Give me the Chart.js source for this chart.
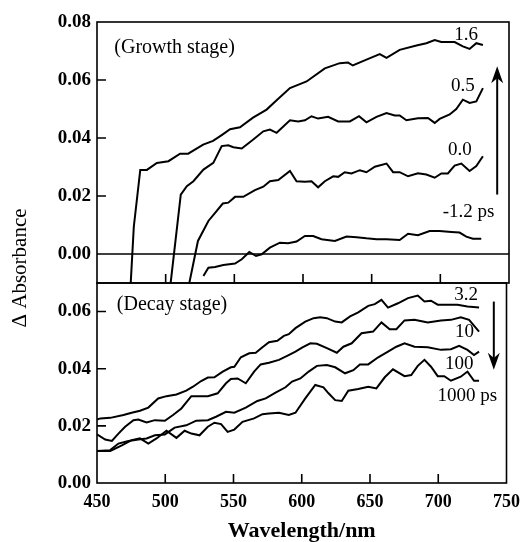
<!DOCTYPE html>
<html>
<head>
<meta charset="utf-8">
<script src="https://cdn.jsdelivr.net/npm/chart.js@4.4.0/dist/chart.umd.min.js"></script>
<style>
  html, body { margin: 0; padding: 0; background: #fff; }
  #wrap { position: relative; width: 529px; height: 542px; }
  #wrap canvas { position: absolute; left: 0; top: 0; }
</style>
</head>
<body>
<div id="wrap">
  <canvas id="topChart" width="529" height="542"></canvas>
  <canvas id="bottomChart" width="529" height="542"></canvas>
</div>
<script>
//ticks
const xTicks = [450, 500, 550, 600, 650, 700, 750];
const yTicksTop = [0.00, 0.02, 0.04, 0.06, 0.08];
const yTicksBottom = [0.00, 0.02, 0.04, 0.06];

const xTitle = 'Wavelength/nm';
const yTitle = '\u0394 Absorbance';
const stageTitles = ['(Growth stage)', '(Decay stage)'];

//growth stage
const growthDelays = ['1.6', '0.5', '0.0', '-1.2 ps'];
const wl_16 = [474.5, 476.8, 481.5, 486.3, 493.6, 502, 510.5, 516.4, 527.3, 534.5, 540.8, 546.9, 554.1, 563.6, 573.5, 580.8, 590.5, 597.7, 602.6, 615.9, 626.8, 632.8, 636.3, 646.2, 655.9, 660.8, 670.4, 682.6, 689.8, 695.9, 700.7, 710.4, 716.4, 721.3, 726.2, 731];
const abs_16 = [-0.0105, 0.0094, 0.029, 0.029, 0.0314, 0.032, 0.0346, 0.0346, 0.0377, 0.039, 0.041, 0.043, 0.0437, 0.047, 0.0498, 0.053, 0.0572, 0.0586, 0.0595, 0.064, 0.0658, 0.066, 0.065, 0.067, 0.0689, 0.0676, 0.0704, 0.0719, 0.0727, 0.0738, 0.0731, 0.0731, 0.0716, 0.0707, 0.0727, 0.0721];
const wl_05 = [503.5, 511, 515.4, 520.2, 527.5, 534.7, 540.8, 545.6, 549.3, 555.4, 563.8, 571.1, 575.9, 580.8, 590.5, 596.5, 601.4, 606.2, 611, 618.3, 625.6, 634.1, 640.8, 646.2, 653.5, 660.8, 666.8, 670.4, 675.3, 683.7, 691, 695.9, 699.5, 706.8, 711.6, 716.4, 721.3, 726.2, 731];
const abs_05 = [-0.0105, 0.0205, 0.0234, 0.0251, 0.0291, 0.0314, 0.0372, 0.0375, 0.0368, 0.0364, 0.0395, 0.0423, 0.0429, 0.0418, 0.0461, 0.0457, 0.0461, 0.0475, 0.0467, 0.0473, 0.0457, 0.0457, 0.0475, 0.0454, 0.0473, 0.0486, 0.0478, 0.0478, 0.0461, 0.0468, 0.0469, 0.0452, 0.0466, 0.0481, 0.05, 0.0532, 0.0521, 0.0526, 0.0572];
const wl_00 = [517, 523.5, 531.1, 536, 541.6, 545.6, 550.5, 556.5, 565, 571.1, 575.9, 582, 590.5, 595.3, 601.4, 606.2, 611, 615.9, 622, 625.6, 630.4, 635.3, 641.4, 646.2, 652.3, 660.8, 665.6, 670.4, 676.5, 683.7, 689.8, 695.9, 700.7, 705.5, 710.4, 715.3, 721.3, 726.2, 731];
const abs_00 = [-0.0105, 0.0045, 0.0114, 0.0142, 0.0174, 0.0177, 0.0197, 0.0197, 0.022, 0.0232, 0.0251, 0.0255, 0.0286, 0.0251, 0.0249, 0.0251, 0.023, 0.0251, 0.0268, 0.0266, 0.0282, 0.0278, 0.0289, 0.0282, 0.0301, 0.0312, 0.0282, 0.0282, 0.0268, 0.0278, 0.0274, 0.0263, 0.0278, 0.0278, 0.0305, 0.0312, 0.0286, 0.0303, 0.0337];
const wl_m12 = [527.5, 531.1, 536, 542, 550.5, 555.4, 560.9, 565.8, 569.9, 575.9, 583.2, 589.2, 595.3, 601.4, 607.4, 613.5, 623.2, 631.7, 639, 646.2, 653.5, 660.8, 670.4, 676.5, 683.7, 692.2, 699.5, 708, 714, 718.9, 723.7, 729.8];
const abs_m12 = [-0.0076, -0.0047, -0.0045, -0.0038, -0.0033, -0.0018, 0.0007, -0.0007, -0.0001, 0.0022, 0.0039, 0.0037, 0.0043, 0.0062, 0.0062, 0.0051, 0.0045, 0.006, 0.0058, 0.0054, 0.0051, 0.0051, 0.0048, 0.007, 0.0065, 0.0079, 0.0079, 0.0076, 0.0074, 0.006, 0.0053, 0.0053];

//decay stage
const decayDelays = ['3.2', '10', '100', '1000 ps'];
const wl_32 = [450, 452.4, 459.7, 469.4, 475.4, 481.5, 487.6, 494.8, 500.9, 508.2, 515.4, 520.3, 526.3, 531.2, 536, 542.1, 548.1, 550.6, 555.4, 561.5, 566.3, 571.2, 576, 582.1, 586.9, 590.5, 595.4, 602.6, 608.7, 613.5, 618.4, 624.5, 629.3, 635.4, 641.4, 648.7, 653.5, 658.4, 663.2, 670.5, 677.8, 685, 689.9, 694.7, 699.6, 706.8, 714.1, 721.4, 729.9];
const abs_32 = [0.0222, 0.0226, 0.0228, 0.0238, 0.0246, 0.0253, 0.0264, 0.0296, 0.0304, 0.031, 0.0323, 0.0337, 0.0357, 0.0369, 0.037, 0.039, 0.0405, 0.0407, 0.044, 0.0454, 0.0456, 0.0475, 0.0493, 0.0498, 0.0515, 0.0521, 0.0542, 0.0565, 0.0577, 0.058, 0.0577, 0.0565, 0.0562, 0.0583, 0.0597, 0.062, 0.0626, 0.0641, 0.0614, 0.0629, 0.0647, 0.0656, 0.0635, 0.0638, 0.0624, 0.0624, 0.0624, 0.0618, 0.0614];
const wl_10 = [450, 456, 460.9, 465.7, 470.6, 476.7, 480.3, 486.3, 492.4, 499.7, 505.7, 511.8, 519.1, 525.1, 531.2, 538.4, 544.5, 548.1, 553, 559, 565.1, 569.9, 576, 583.3, 589.3, 595.4, 600.2, 606.3, 611.1, 618.4, 625.7, 630.5, 636.6, 643.8, 652.3, 658.4, 664.4, 669.3, 675.3, 682.6, 692.3, 702, 709.3, 716.5, 722.6, 729.9];
const abs_10 = [0.017, 0.0152, 0.0147, 0.0173, 0.0197, 0.022, 0.0222, 0.0212, 0.022, 0.0218, 0.0238, 0.0261, 0.0304, 0.0304, 0.0304, 0.0314, 0.0349, 0.0364, 0.0366, 0.0349, 0.039, 0.0415, 0.0421, 0.0431, 0.0445, 0.046, 0.0474, 0.0489, 0.0487, 0.0472, 0.0456, 0.0477, 0.0489, 0.0524, 0.053, 0.0562, 0.0538, 0.0538, 0.0569, 0.0571, 0.0562, 0.0569, 0.0571, 0.058, 0.0571, 0.053];
const wl_100 = [450, 459.7, 465.7, 473, 480.3, 486.3, 492.4, 499.7, 506.9, 515.4, 522.7, 531.2, 537.2, 544.5, 550.6, 559, 567.5, 573.6, 580.8, 588.1, 592.9, 599, 605.1, 611.1, 618.4, 624.5, 631.7, 637.8, 642.6, 648.7, 656, 663.2, 669.3, 675.3, 682.6, 692.3, 702, 709.3, 715.3, 721.4, 726.2, 729.9];
const abs_100 = [0.0112, 0.0115, 0.0138, 0.0147, 0.0152, 0.0156, 0.0167, 0.017, 0.0194, 0.0202, 0.0218, 0.022, 0.0232, 0.0249, 0.0246, 0.0264, 0.0287, 0.0296, 0.0316, 0.0335, 0.0355, 0.0366, 0.039, 0.041, 0.0413, 0.0405, 0.0384, 0.0395, 0.0415, 0.0415, 0.044, 0.046, 0.0477, 0.0489, 0.0477, 0.0475, 0.0466, 0.0468, 0.048, 0.0466, 0.0448, 0.046];
const wl_1000 = [450, 459.7, 468.2, 475.4, 481.5, 487.6, 493.6, 500.9, 508.2, 514.2, 519.1, 525.1, 531.2, 536, 540.9, 545.7, 550.6, 556.6, 565.1, 571.2, 576, 583.3, 590.5, 595.4, 602.6, 609.9, 615.9, 619.6, 624.5, 629.3, 634.1, 641.4, 648.7, 654.7, 660.8, 666.8, 675.3, 680.2, 685, 689.9, 694.7, 699.6, 704.4, 709.3, 716.5, 721.4, 726.2, 729.9];
const abs_1000 = [0.0112, 0.0112, 0.0132, 0.015, 0.0156, 0.0138, 0.0156, 0.0183, 0.0158, 0.0183, 0.0173, 0.0167, 0.0197, 0.0211, 0.0206, 0.0179, 0.0187, 0.0214, 0.0226, 0.0241, 0.0243, 0.0246, 0.0238, 0.0246, 0.0296, 0.0343, 0.0335, 0.0314, 0.029, 0.0287, 0.0323, 0.0329, 0.0337, 0.0331, 0.037, 0.0398, 0.0374, 0.0378, 0.041, 0.0431, 0.0407, 0.0374, 0.0374, 0.0358, 0.0372, 0.039, 0.0358, 0.0358];

const SERIF = '"Liberation Serif", "Times New Roman", serif';
Chart.defaults.font.family = SERIF;
Chart.defaults.color = '#000';

function toPoints(wl, abs) {
    return wl.map((w, i) => ({ x: w, y: abs[i] }));
}

function lineSet(label, wl, abs) {
    return {
        label: label,
        data: toPoints(wl, abs),
        borderColor: '#000',
        borderWidth: 2,
        pointRadius: 0,
        tension: 0,
        fill: false
    };
}

// frame, inward tick marks, curve labels, arrows
function decoPlugin(cfg) {
    return {
        id: 'deco',
        afterDatasetsDraw(chart) {
            const ctx = chart.ctx;
            const a = chart.chartArea;
            const x = chart.scales.x;
            const y = chart.scales.y;
            ctx.save();
            ctx.strokeStyle = '#000';
            ctx.lineWidth = 1.6;
            ctx.strokeRect(a.left, a.top, a.right - a.left, a.bottom - a.top);

            ctx.beginPath();
            xTicks.forEach(v => {
                const px = x.getPixelForValue(v);
                if (px > a.left + 1 && px < a.right - 1) {
                    ctx.moveTo(px, a.bottom);
                    ctx.lineTo(px, a.bottom - 9);
                }
            });
            cfg.yTicks.forEach(v => {
                const py = y.getPixelForValue(v);
                if (py > a.top + 1 && py < a.bottom - 1) {
                    ctx.moveTo(a.left, py);
                    ctx.lineTo(a.left + 9, py);
                }
            });
            if (cfg.zeroLine) {
                const p0 = y.getPixelForValue(0);
                ctx.moveTo(a.left, p0);
                ctx.lineTo(a.right, p0);
            }
            ctx.stroke();

            ctx.fillStyle = '#000';
            ctx.textBaseline = 'middle';
            ctx.textAlign = 'left';
            ctx.font = '20px ' + SERIF;
            ctx.fillText(cfg.title, x.getPixelForValue(cfg.titleAt[0]), y.getPixelForValue(cfg.titleAt[1]));

            ctx.font = '19px ' + SERIF;
            ctx.textAlign = 'center';
            cfg.labels.forEach((t, i) => {
                const p = cfg.labelAt[i];
                ctx.fillText(t, x.getPixelForValue(p[0]), y.getPixelForValue(p[1]));
            });

            // arrow
            const ax = x.getPixelForValue(cfg.arrow[0]);
            const y0 = y.getPixelForValue(cfg.arrow[1]);
            const y1 = y.getPixelForValue(cfg.arrow[2]);
            const dir = y1 < y0 ? -1 : 1;
            const head = 17;
            ctx.lineWidth = 2;
            ctx.beginPath();
            ctx.moveTo(ax, y0);
            ctx.lineTo(ax, y1 - dir * head * 0.6);
            ctx.stroke();
            ctx.beginPath();
            ctx.moveTo(ax, y1);
            ctx.lineTo(ax - 6, y1 - dir * head);
            ctx.lineTo(ax, y1 - dir * head * 0.7);
            ctx.lineTo(ax + 6, y1 - dir * head);
            ctx.closePath();
            ctx.fill();

            if (cfg.yTitle) {
                ctx.save();
                ctx.translate(20, 268);
                ctx.rotate(-Math.PI / 2);
                ctx.font = '21px ' + SERIF;
                ctx.textAlign = 'center';
                ctx.fillText(yTitle, 0, 0);
                ctx.restore();
            }
            ctx.restore();
        }
    };
}

function yScale(min, max, ticks) {
    return {
        min: min,
        max: max,
        afterFit: (s) => { s.width = 97; },
        afterBuildTicks: (s) => { s.ticks = ticks.map(v => ({ value: v })); },
        grid: { display: false, drawTicks: false },
        border: { display: false },
        ticks: {
            padding: 6,
            color: '#000',
            font: { size: 19, weight: 'bold' },
            callback: (v) => Number(v).toFixed(2)
        }
    };
}

function loadCharts() {
    // top panel: growth stage
    new Chart(document.getElementById('topChart'), {
        type: 'line',
        data: {
            datasets: [
                lineSet(growthDelays[0], wl_16, abs_16),
                lineSet(growthDelays[1], wl_05, abs_05),
                lineSet(growthDelays[2], wl_00, abs_00),
                lineSet(growthDelays[3], wl_m12, abs_m12)
            ]
        },
        options: {
            responsive: false,
            animation: false,
            layout: { padding: { top: 22, right: 20, bottom: 259, left: 0 } },
            plugins: { legend: { display: false }, tooltip: { enabled: false } },
            scales: {
                x: { type: 'linear', min: 450, max: 750, display: false },
                y: yScale(-0.01, 0.08, yTicksTop)
            }
        },
        plugins: [decoPlugin({
            yTicks: yTicksTop,
            zeroLine: true,
            title: stageTitles[0],
            titleAt: [462.6, 0.0712],
            labels: growthDelays,
            labelAt: [[718.7, 0.0756], [716.4, 0.058], [714.2, 0.036], [720.6, 0.0145]],
            arrow: [741.4, 0.0205, 0.0647],
            yTitle: false
        })]
    });

    // bottom panel: decay stage
    new Chart(document.getElementById('bottomChart'), {
        type: 'line',
        data: {
            datasets: [
                lineSet(decayDelays[0], wl_32, abs_32),
                lineSet(decayDelays[1], wl_10, abs_10),
                lineSet(decayDelays[2], wl_100, abs_100),
                lineSet(decayDelays[3], wl_1000, abs_1000)
            ]
        },
        options: {
            responsive: false,
            animation: false,
            layout: { padding: { top: 283, right: 20, bottom: 0, left: 0 } },
            plugins: { legend: { display: false }, tooltip: { enabled: false } },
            scales: {
                x: {
                    type: 'linear',
                    min: 450,
                    max: 750,
                    afterFit: (s) => { s.height = 59; },
                    afterBuildTicks: (s) => { s.ticks = xTicks.map(v => ({ value: v })); },
                    grid: { display: false, drawTicks: false },
                    border: { display: false },
                    ticks: { padding: 9, color: '#000', maxRotation: 0, font: { size: 18, weight: 'bold' } },
                    title: {
                        display: true,
                        text: xTitle,
                        color: '#000',
                        padding: 0,
                        font: { size: 22, weight: 'bold', lineHeight: 1 }
                    }
                },
                y: yScale(0, 0.07, yTicksBottom)
            }
        },
        plugins: [decoPlugin({
            yTicks: yTicksBottom,
            zeroLine: false,
            title: stageTitles[1],
            titleAt: [464.5, 0.0624],
            labels: decayDelays,
            labelAt: [[720.4, 0.0659], [719.3, 0.0527], [715.3, 0.0416], [721.3, 0.0304]],
            arrow: [740.7, 0.0635, 0.0396],
            yTitle: true
        })]
    });
}

loadCharts();
</script>
</body>
</html>
